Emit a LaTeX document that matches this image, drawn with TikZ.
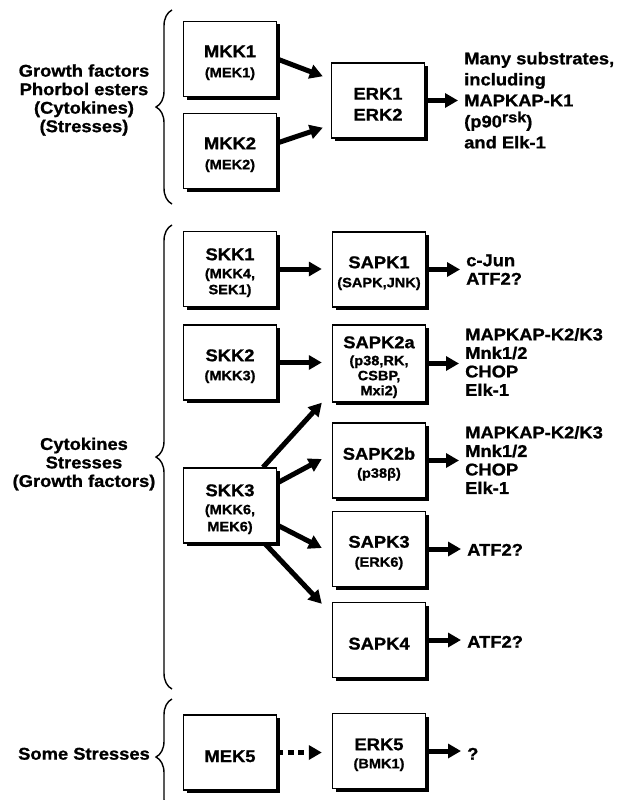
\documentclass[tikz,border=0pt]{standalone}
\usepackage{fontspec}
\setmainfont{Liberation Sans}[FakeStretch=1.08,BoldFeatures={FakeBold=1}]
\usetikzlibrary{arrows.meta,shadows,calc,decorations.pathreplacing}
\newcommand{\bt}{\fontsize{17}{21}\selectfont\bfseries}
\newcommand{\bsub}{\fontsize{13.5}{16}\selectfont\bfseries}
\newcommand{\dn}{\rule{0pt}{19.2pt}}
\begin{document}
\begin{tikzpicture}[x=1pt,y=-1pt,
  kbox/.style={draw,line width=1.4pt,fill=white,minimum width=93pt,minimum height=75pt,
    inner sep=0pt,align=center,font=\bt,
    drop shadow={shadow xshift=3pt,shadow yshift=-3pt,opacity=1,fill=black}},
  arr/.style={line width=5pt,-{Triangle[length=13pt,width=14pt]}},
  dotarr/.style={line width=5.5pt,dash pattern=on 6pt off 4.5pt,-{Triangle[length=13pt,width=14pt]}},
  lbl/.style={inner sep=0pt,align=center,font=\bt},
  rlbl/.style={inner sep=0pt,align=left,font=\bt,anchor=west},
  brc/.style={decorate,decoration={brace,amplitude=16pt},line width=1.4pt}]
\useasboundingbox (0,0) rectangle (628,800);
\clip (0,0) rectangle (628,800);

% group 1
\node[lbl] (g1) at (84,100) {Growth factors\\[-2.5pt]Phorbol esters\\[-2.5pt](Cytokines)\\[-2.5pt](Stresses)};
\draw[brc] (172,204) -- (172,10);
\node[kbox] (mkk1) at (230,59) {\dn MKK1\\[-1pt]\bsub (MEK1)};
\node[kbox] (mkk2) at (230,151) {\dn MKK2\\[-1pt]\bsub (MEK2)};
\node[kbox] (erk) at (378,100.5) {\dn ERK1\\ERK2};
\node[rlbl] (sub1) at (464,100.3) {Many substrates,\\including\\MAPKAP-K1\\(p90\raisebox{5pt}{\fontsize{15}{15}\selectfont rsk})\\and Elk-1};
\draw[arr] (mkk1.east) -- ($(erk.north west)+(-8,14)$);
\draw[arr] ($(mkk2.east)+(0,-8)$) -- ($(erk.south west)+(-8,-11)$);
\draw[arr,shorten >=6pt] (erk.east) -- (erk.east -| sub1.west);

% group 2
\node[lbl] (g2) at (84,464) {Cytokines\\[-2.5pt]Stresses\\[-2.5pt](Growth factors)};
\draw[brc] (172,689) -- (172,225);
\node[kbox] (skk1) at (230,269) {\dn SKK1\\[-3pt]\bsub (MKK4,\\[-5pt]\bsub SEK1)};
\node[kbox] (sapk1) at (379,269.5) {\dn SAPK1\\[-2pt]\bsub (SAPK,JNK)};
\node[rlbl] (t1) at (466,269.6) {c-Jun\\[-2.5pt]ATF2?};
\node[kbox] (skk2) at (230,362.5) {\dn SKK2\\[-2pt]\bsub (MKK3)};
\node[kbox,minimum height=77pt] (sapk2a) at (379,363.5) {\dn SAPK2a\\[-4pt]\bsub (p38,RK,\\[-6pt]\bsub CSBP,\\[-6pt]\bsub Mxi2)};
\node[rlbl] (t2a) at (465,362) {MAPKAP-K2/K3\\[-2.5pt]Mnk1/2\\[-2.5pt]CHOP\\[-2.5pt]Elk-1};
\node[kbox] (sapk2b) at (379,460.5) {\dn SAPK2b\\[-3pt]\bsub (p38β)};
\node[rlbl] (t2b) at (465,460) {MAPKAP-K2/K3\\[-2.5pt]Mnk1/2\\[-2.5pt]CHOP\\[-2.5pt]Elk-1};
\node[kbox] (skk3) at (230,505.5) {\dn SKK3\\[-3pt]\bsub (MKK6,\\[-4pt]\bsub MEK6)};
\node[kbox] (sapk3) at (379,549) {\dn SAPK3\\[-2pt]\bsub (ERK6)};
\node[rlbl] (t3) at (467,549.8) {ATF2?};
\node[kbox] (sapk4) at (379,640) {\dn SAPK4};
\node[rlbl] (t4) at (467,641.8) {ATF2?};

\draw[arr,shorten >=10pt] (skk1.east) -- (skk1.east -| sapk1.west);
\draw[arr,shorten >=10pt] (skk2.east) -- (skk2.east -| sapk2a.west);
\draw[arr,shorten >=6pt] (sapk1.east) -- (sapk1.east -| t1.west);
\draw[arr,shorten >=6pt] (sapk2a.east) -- (sapk2a.east -| t2a.west);
\draw[arr,shorten >=6pt] (sapk2b.east) -- (sapk2b.east -| t2b.west);
\draw[arr,shorten >=6pt] (sapk3.east) -- (sapk3.east -| t3.west);
\draw[arr,shorten >=6pt] (sapk4.east) -- (sapk4.east -| t4.west);
\draw[arr] ($(skk3.north)+(33,0)$) -- ($(sapk2a.south west)+(-10,0)$);
\draw[arr] ($(skk3.east)+(0,-22.5)$) -- ($(sapk2b.west)+(-10,-1.5)$);
\draw[arr] ($(skk3.east)+(0,19.5)$) -- ($(sapk3.west)+(-10,-1)$);
\draw[arr] ($(skk3.south)+(35,0)$) -- ($(sapk4.north west)+(-10,2)$);

% group 3
\node[lbl] (g3) at (84,753.8) {Some Stresses};
\draw[brc] (172,815) -- (172,699);
\node[kbox] (mek5) at (230,752.5) {\dn MEK5};
\node[kbox] (erk5) at (379,751) {\dn ERK5\\[-3pt]\bsub (BMK1)};
\node[rlbl] (t5) at (467,753.8) {?};
\draw[dotarr,shorten >=10pt] (mek5.east) -- (mek5.east -| erk5.west);
\draw[arr,shorten >=6pt] (erk5.east) -- (erk5.east -| t5.west);
\end{tikzpicture}
\end{document}
